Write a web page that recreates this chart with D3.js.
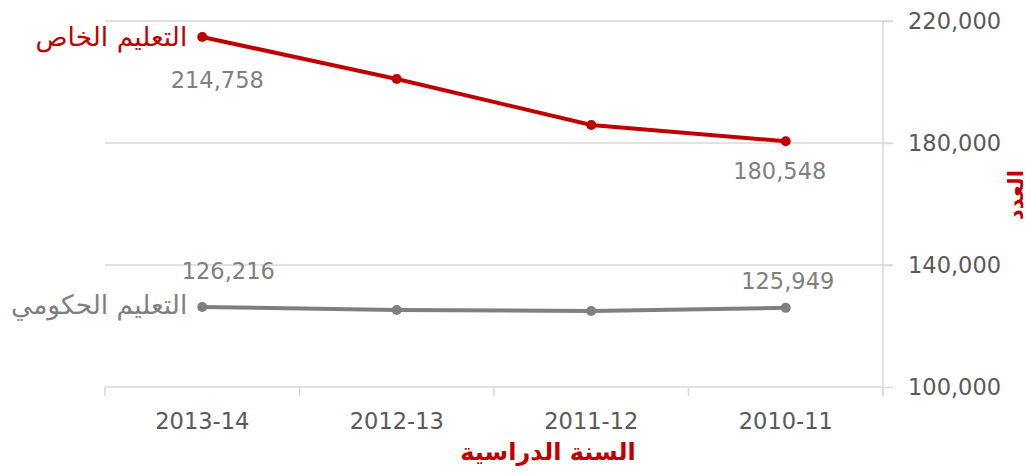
<!DOCTYPE html>
<html>
<head>
<meta charset="utf-8">
<style>
  body { margin: 0; background: #fff; }
  text { font-family: "DejaVu Sans", sans-serif; }
</style>
</head>
<body>
<script src="https://d3js.org/d3.v7.min.js"></script>
<script>
// school years as displayed (right-to-left chronology)
var years = ["2013-14", "2012-13", "2011-12", "2010-11"];
var privateEd = [214758, 200980, 185900, 180548];
var publicEd = [126216, 125250, 124920, 125949];
var yTicks = [100000, 140000, 180000, 220000];

var width = 1036, height = 475;
var plotLeft = 105, plotRight = 883, plotTop = 21, plotBottom = 387;
var red = "#c00000", gray = "#7f7f7f";

var svg = d3.select("body").append("svg")
    .attr("width", width)
    .attr("height", height);

var xBand = d3.scaleBand().domain(years).range([plotLeft, plotRight]);
var x = d3.scalePoint().domain(years).range([plotLeft, plotRight]).padding(0.5);
var y = d3.scaleLinear().domain([100000, 220000]).range([plotBottom, plotTop]);

// gridlines
svg.append("g")
  .selectAll("line")
  .data(yTicks.slice(1))
  .enter().append("line")
    .attr("x1", plotLeft).attr("x2", plotRight + 10)
    .attr("y1", function(d) { return y(d); })
    .attr("y2", function(d) { return y(d); })
    .attr("stroke", "#d9d9d9").attr("stroke-width", 1.5);

// y axis on the right
var yAxis = svg.append("g")
    .attr("transform", "translate(" + plotRight + ",0)")
    .call(d3.axisRight(y).tickValues(yTicks).tickSize(10).tickPadding(15)
      .tickFormat(d3.format(",")));
yAxis.select(".domain").attr("stroke", "#d9d9d9").attr("stroke-width", 1.5)
    .attr("d", "M0," + plotTop + "V" + (plotBottom + 9));
yAxis.selectAll(".tick line").attr("stroke", "#d9d9d9").attr("stroke-width", 1.5);
yAxis.selectAll(".tick text").attr("fill", "#595959").style("font-size", "22.5px");

// x axis
var xAxis = svg.append("g")
    .attr("transform", "translate(0," + plotBottom + ")")
    .call(d3.axisBottom(xBand).tickSize(0).tickPadding(26));
xAxis.select(".domain").attr("stroke", "#d9d9d9").attr("stroke-width", 1.5)
    .attr("d", "M" + plotLeft + ",0H" + plotRight);
xAxis.selectAll(".tick text").attr("fill", "#595959").style("font-size", "22.5px");
// band boundary ticks
svg.append("g")
  .selectAll("line")
  .data(years.concat(["end"]))
  .enter().append("line")
    .attr("x1", function(d, i) { return i < years.length ? xBand(d) : plotRight; })
    .attr("x2", function(d, i) { return i < years.length ? xBand(d) : plotRight; })
    .attr("y1", plotBottom).attr("y2", plotBottom + 9)
    .attr("stroke", "#d9d9d9").attr("stroke-width", 1.5);

// lines
var line = d3.line()
    .x(function(d, i) { return x(years[i]); })
    .y(function(d) { return y(d); });

function drawSeries(values, color) {
  svg.append("path")
      .datum(values)
      .attr("fill", "none")
      .attr("stroke", color)
      .attr("stroke-width", 4)
      .attr("d", line);
  svg.append("g")
    .selectAll("circle")
    .data(values)
    .enter().append("circle")
      .attr("cx", function(d, i) { return x(years[i]); })
      .attr("cy", function(d) { return y(d); })
      .attr("r", 5)
      .attr("fill", color);
}
drawSeries(privateEd, red);
drawSeries(publicEd, gray);

// data labels
function valueLabel(val, idx, dx, dy) {
  svg.append("text")
      .attr("x", x(years[idx]) + dx)
      .attr("y", y(val) + dy)
      .attr("text-anchor", "middle")
      .attr("dominant-baseline", "central")
      .attr("fill", gray)
      .style("font-size", "22.5px")
      .text(d3.format(",")(val));
}
valueLabel(privateEd[0], 0, 15, 43);
valueLabel(privateEd[3], 3, -6, 30);
valueLabel(publicEd[0], 0, 26, -36);
valueLabel(publicEd[3], 3, 2, -27);

// series names
svg.append("text")
    .attr("x", x(years[0]) - 15)
    .attr("y", y(privateEd[0]))
    .attr("text-anchor", "end")
    .attr("dominant-baseline", "central")
    .attr("fill", red)
    .style("font-size", "26.5px")
    .text("التعليم الخاص");
svg.append("text")
    .attr("x", x(years[0]) - 15)
    .attr("y", y(publicEd[0]) - 3)
    .attr("text-anchor", "end")
    .attr("dominant-baseline", "central")
    .attr("fill", gray)
    .style("font-size", "26.5px")
    .text("التعليم الحكومي");

// axis titles
svg.append("text")
    .attr("x", 548)
    .attr("y", 452)
    .attr("text-anchor", "middle")
    .attr("dominant-baseline", "central")
    .attr("fill", red)
    .style("font-size", "24px")
    .style("font-weight", "bold")
    .text("السنة الدراسية");
svg.append("text")
    .attr("transform", "translate(1016,195) rotate(-90)")
    .attr("text-anchor", "middle")
    .attr("dominant-baseline", "central")
    .attr("fill", red)
    .style("font-size", "21px")
    .style("font-weight", "bold")
    .text("العدد");
</script>
</body>
</html>
